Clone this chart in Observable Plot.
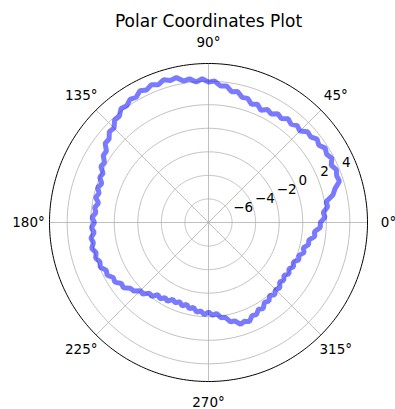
<!DOCTYPE html>
<html><head><meta charset="utf-8">
<script src="https://cdn.jsdelivr.net/npm/d3@7"></script>
<script src="https://cdn.jsdelivr.net/npm/@observablehq/plot@0.6"></script>
<style>body{margin:0;background:#fff}</style>
</head><body><div id="chart"></div>
<script>
const title = "Polar Coordinates Plot";
const thetaStepDeg = 2.5;
const rValues = [
  1.5, 1.9, 1.78, 2.2, 2.14, 2.82, 3.12, 3.66, 3.58, 3.75, 3.5, 3.8, 3.58, 3.75, 3.44, 3.62, 3.32, 3.41, 2.98, 3.15,
  2.9, 3.1, 2.78, 2.95, 2.64, 2.82, 2.52, 2.86, 2.68, 3.05, 3.0, 3.4, 3.28, 3.7, 3.64, 4.02, 3.92, 4.21, 3.98, 4.3,
  4.2, 4.6, 4.48, 4.7, 4.44, 4.67, 4.42, 4.61, 4.28, 4.4, 4.1, 4.2, 3.78, 3.8, 3.34, 3.42, 3.02, 3.06, 2.58, 2.6,
  2.2, 2.3, 1.88, 2.0, 1.64, 1.87, 1.62, 1.81, 1.48, 1.75, 1.6, 1.9, 1.68, 1.95, 1.74, 2.07, 1.92, 2.16, 1.88, 2.05,
  1.8, 1.95, 1.58, 1.7, 1.34, 1.42, 1.02, 1.11, 0.68, 0.6, 0.2, 0.25, -0.17, -0.1, -0.51, -0.33, -0.63, -0.46, -0.8, -0.62,
  -0.85, -0.57, -0.8, -0.5, -0.68, -0.33, -0.46, -0.16, -0.4, -0.12, -0.25, 0.15, 0.18, 0.65, 0.64, 1.07, 0.92, 1.11, 0.73, 0.82,
  0.5, 0.65, 0.28, 0.42, 0.09, 0.32, 0.05, 0.22, -0.12, 0.06, -0.18, 0.11, -0.12, 0.15, -0.06, 0.3, 0.17, 0.51, 0.33, 0.7,
  0.65, 1.1, 1.03, 1.5, 1.5
];
const angleTicks = [0, 45, 90, 135, 180, 225, 270, 315];
const angleTickLabels = ["0°", "45°", "90°", "135°", "180°", "225°", "270°", "315°"];
const radialTicks = [-6, -4, -2, 0, 2, 4];
const radialTickLabels = ["\u22126", "\u22124", "\u22122", "0", "2", "4"];
const rMin = -8, rMax = 5.5;
const radialLabelAngle = 22.5;

const W = 395, H = 409, cx = 208, cy = 222, R = 159;
const k = R / (rMax - rMin);
const rad = d => d * Math.PI / 180;
const pol = (deg, rr) => ({x: rr * Math.cos(rad(deg)), y: rr * Math.sin(rad(deg))});
const span = rMax - rMin;

const curve = rValues.map((v, i) => ({...pol(i * thetaStepDeg, v - rMin)}));
const circleAngles = d3.range(0, 361, 1);
const rings = radialTicks.flatMap(t => circleAngles.map(a => ({...pol(a, t - rMin), t})));
const outer = circleAngles.map(a => pol(a, span));
const spokes = angleTicks.map(a => ({x1: 0, y1: 0, x2: pol(a, span).x, y2: pol(a, span).y}));
const labR = 180 / k;
const angleLabels = angleTicks.map((a, i) => ({...pol(a, labR), text: angleTickLabels[i]}));
const radLabels = radialTicks.map((t, i) => ({...pol(radialLabelAngle, t - rMin), text: radialTickLabels[i]}));
const font = "DejaVu Sans";

const chart = Plot.plot({
  width: W, height: H,
  marginTop: 0, marginRight: 0, marginBottom: 0, marginLeft: 0,
  x: {domain: [-cx / k, (W - cx) / k], range: [0, W], axis: null},
  y: {domain: [-(H - cy) / k, cy / k], range: [H, 0], axis: null},
  style: {fontFamily: font, background: "#fff"},
  marks: [
    Plot.line(rings, {x: "x", y: "y", z: "t", stroke: "#b0b0b0", strokeWidth: 0.8}),
    Plot.link(spokes, {x1: "x1", y1: "y1", x2: "x2", y2: "y2", stroke: "#b0b0b0", strokeWidth: 0.8}),
    Plot.line(curve, {x: "x", y: "y", stroke: "blue", strokeOpacity: 0.52, strokeWidth: 5, strokeLinejoin: "miter", curve: "linear"}),
    Plot.line(outer, {x: "x", y: "y", stroke: "#000", strokeWidth: 1}),
    Plot.text(angleLabels, {x: "x", y: "y", text: "text", fontSize: 13.5, fill: "#000", textAnchor: "middle", lineAnchor: "middle"}),
    Plot.text(radLabels, {x: "x", y: "y", text: "text", fontSize: 13.5, fill: "#000", textAnchor: "start", lineAnchor: "middle", dx: 3, dy: -6}),
    Plot.text([title], {x: 0, y: (cy - 21) / k, text: d => d, fontSize: 17, fill: "#000", textAnchor: "middle", lineAnchor: "middle"})
  ]
});
document.getElementById("chart").append(chart);
</script>
</body></html>
